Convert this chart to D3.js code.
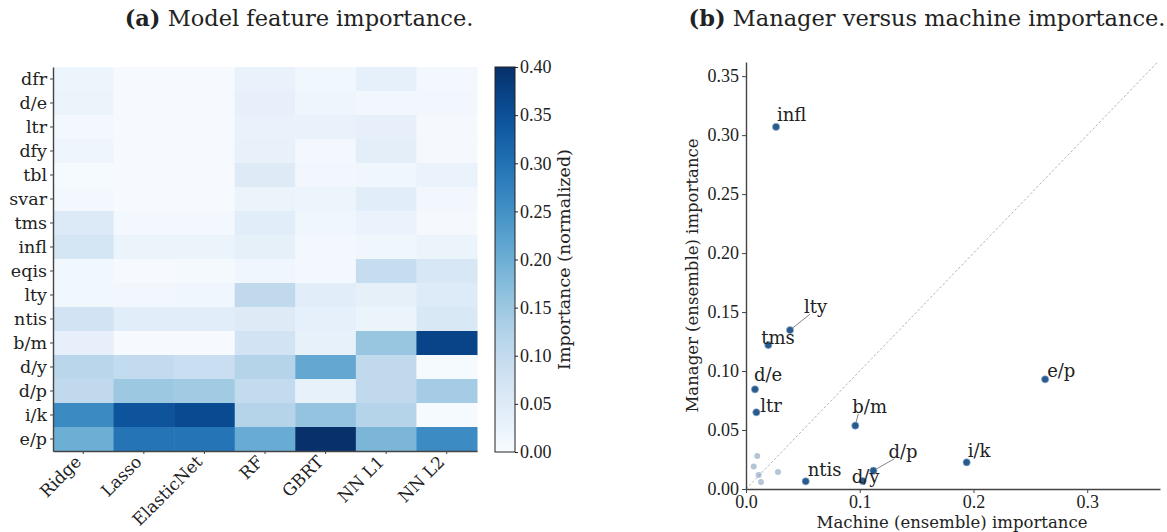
<!DOCTYPE html>
<html><head><meta charset="utf-8">
<script src="https://cdn.jsdelivr.net/npm/d3@7"></script>
<style>
body{margin:0;background:#fff}
svg text{font-family:"Liberation Serif","DejaVu Serif",serif;fill:#222}
svg text.word{font-family:"DejaVu Serif","Liberation Serif",serif}
</style></head><body>
<svg id="chart" width="1167" height="532"></svg>
<script>
// ---- Panel (a): per-model normalized feature importance ----
const models = ["Ridge","Lasso","ElasticNet","RF","GBRT","NN L1","NN L2"];
const features = ["dfr","d/e","ltr","dfy","tbl","svar","tms","infl","eqis","lty","ntis","b/m","d/y","d/p","i/k","e/p"];
const ridge      = [0.020,0.022,0.008,0.018,0.004,0.010,0.055,0.070,0.014,0.014,0.075,0.033,0.115,0.105,0.262,0.200];
const lasso      = [0.002,0.002,0.002,0.002,0.002,0.003,0.010,0.025,0.003,0.012,0.045,0.002,0.100,0.150,0.345,0.295];
const elasticNet = [0.002,0.002,0.002,0.002,0.002,0.003,0.010,0.025,0.007,0.015,0.045,0.002,0.090,0.145,0.360,0.295];
const rf         = [0.028,0.033,0.028,0.030,0.050,0.025,0.045,0.035,0.015,0.105,0.050,0.075,0.120,0.100,0.120,0.205];
const gbrt       = [0.014,0.018,0.028,0.010,0.012,0.020,0.017,0.010,0.008,0.045,0.034,0.032,0.210,0.032,0.160,0.400];
const nnL1       = [0.034,0.012,0.033,0.040,0.017,0.045,0.027,0.017,0.095,0.035,0.022,0.155,0.105,0.105,0.120,0.185];
const nnL2       = [0.010,0.012,0.005,0.005,0.027,0.012,0.005,0.022,0.062,0.052,0.060,0.370,0.004,0.140,0.004,0.260];
const modelValues = [ridge, lasso, elasticNet, rf, gbrt, nnL1, nnL2];
const colorTicks = [0.00,0.05,0.10,0.15,0.20,0.25,0.30,0.35,0.40];

// ---- Panel (b): manager vs machine (ensemble) importance ----
const scatterFeatures = ["infl","lty","tms","d/e","ltr","b/m","ntis","d/y","d/p","i/k","e/p","dfr","dfy","tbl","svar","eqis"];
const machineImp = [0.0264,0.0387,0.0196,0.0079,0.0091,0.0961,0.0525,0.1026,0.1120,0.1940,0.2630,0.0099,0.0068,0.0111,0.0132,0.0281];
const managerImp = [0.3070,0.1347,0.1220,0.0845,0.0650,0.0537,0.0065,0.0068,0.0155,0.0226,0.0930,0.0280,0.0190,0.0119,0.0059,0.0144];
const labelled   = [true,true,true,true,true,true,true,true,true,true,true,false,false,false,false,false];
const xTicks = [0.0,0.1,0.2,0.3];
const yTicks = [0.00,0.05,0.10,0.15,0.20,0.25,0.30,0.35];

// label placement (pixel offsets from each point), and which labels get a leader line
const labelDx = [1,14,-7,-1,4,-3,2,-11,15,1,2];
const labelDy = [-6,-17,-1,-8,0,-13,-5,2,-13,-5,-2];
const leader  = [false,true,false,false,false,true,false,false,true,false,false];

const svg = d3.select("#chart");
const ink = "#222";

// ===== Panel (a) =====
const hm = {left:53, top:67, right:477, bottom:451};
const xBand = d3.scaleBand().domain(models).range([hm.left, hm.right]);
const yBand = d3.scaleBand().domain(features).range([hm.top, hm.bottom]);
const color = d3.scaleSequential(d3.interpolateBlues).domain([0, 0.40]).clamp(true);

const cells = [];
models.forEach((m, i) => features.forEach((f, j) => cells.push({m, f, v: modelValues[i][j]})));
svg.append("g").selectAll("rect").data(cells).join("rect")
  .attr("x", d => xBand(d.m)).attr("y", d => yBand(d.f))
  .attr("width", xBand.bandwidth() + 0.5).attr("height", yBand.bandwidth() + 0.5)
  .attr("fill", d => color(d.v));

const gyA = svg.append("g").attr("transform", `translate(${hm.left},0)`)
  .call(d3.axisLeft(yBand).tickSize(3).tickPadding(3).tickSizeOuter(0));
const gxA = svg.append("g").attr("transform", `translate(0,${hm.bottom})`)
  .call(d3.axisBottom(xBand).tickSize(3).tickPadding(3).tickSizeOuter(0));
[gyA, gxA].forEach(g => {
  g.select(".domain").attr("stroke", "#444").attr("stroke-width", 1.4);
  g.selectAll(".tick line").attr("stroke", "#444");
  g.selectAll("text").attr("class", "word").attr("fill", ink).style("font-size", "17.5px");
});
gxA.selectAll(".tick text")
  .style("font-size", "17px")
  .attr("text-anchor", "end").attr("dy", 0).attr("y", 0)
  .attr("transform", "translate(-1,12) rotate(-45)");

// colour bar
const cb = {x:495, w:20, top:67, bottom:452};
const cbScale = d3.scaleLinear().domain([0, 0.40]).range([cb.bottom, cb.top]);
const grad = svg.append("defs").append("linearGradient").attr("id", "cbGrad")
  .attr("x1", 0).attr("y1", 1).attr("x2", 0).attr("y2", 0);
d3.range(0, 1.0001, 0.05).forEach(t => grad.append("stop")
  .attr("offset", t).attr("stop-color", color(t * 0.40)));
svg.append("rect").attr("x", cb.x).attr("y", cb.top).attr("width", cb.w).attr("height", cb.bottom - cb.top)
  .attr("fill", "url(#cbGrad)").attr("stroke", ink).attr("stroke-width", 1);
const gcb = svg.append("g").attr("transform", `translate(${cb.x + cb.w},0)`)
  .call(d3.axisRight(cbScale).tickValues(colorTicks).tickFormat(d3.format(".2f")).tickSize(3).tickPadding(2));
gcb.select(".domain").remove();
gcb.selectAll(".tick line").attr("stroke", ink);
gcb.selectAll("text").attr("fill", ink).style("font-size", "18px");
svg.append("text").attr("class", "word").attr("transform", `translate(570,${(cb.top + cb.bottom) / 2}) rotate(-90)`)
  .attr("text-anchor", "middle").style("font-size", "17.5px").text("Importance (normalized)");

// titles
const titleA = svg.append("text").attr("class", "word").attr("x", 299).attr("y", 26).attr("text-anchor", "middle").style("font-size", "22.5px");
titleA.append("tspan").attr("font-weight", "bold").text("(a)");
titleA.append("tspan").text(" Model feature importance.");
const titleB = svg.append("text").attr("class", "word").attr("x", 927).attr("y", 26).attr("text-anchor", "middle").style("font-size", "22.5px");
titleB.append("tspan").attr("font-weight", "bold").text("(b)");
titleB.append("tspan").text(" Manager versus machine importance.");

// ===== Panel (b) =====
const sp = {left:746, right:1160, top:62, bottom:489};
const x = d3.scaleLinear().domain([0, 0.364]).range([sp.left, sp.right]);
const y = d3.scaleLinear().domain([0, 0.362]).range([sp.bottom, sp.top]);

// 45-degree reference line
const diagMax = Math.min(x.domain()[1], y.domain()[1]);
svg.append("line").attr("x1", x(0)).attr("y1", y(0)).attr("x2", x(diagMax)).attr("y2", y(diagMax))
  .attr("stroke", "#aaa").attr("stroke-width", 0.9).attr("stroke-dasharray", "2.5,2");

const gyB = svg.append("g").attr("transform", `translate(${sp.left},0)`)
  .call(d3.axisLeft(y).tickValues(yTicks).tickFormat(d3.format(".2f")).tickSize(4).tickPadding(3).tickSizeOuter(0));
const gxB = svg.append("g").attr("transform", `translate(0,${sp.bottom})`)
  .call(d3.axisBottom(x).tickValues(xTicks).tickFormat(d3.format(".1f")).tickSize(4).tickPadding(2).tickSizeOuter(0));
[gyB, gxB].forEach(g => {
  g.select(".domain").attr("stroke", "#444").attr("stroke-width", 1.4);
  g.selectAll(".tick line").attr("stroke", "#444");
  g.selectAll("text").attr("fill", ink).style("font-size", "18px");
});
svg.append("text").attr("class", "word").attr("x", (sp.left + sp.right) / 2 - 1).attr("y", 528).attr("text-anchor", "middle")
  .style("font-size", "16.5px").text("Machine (ensemble) importance");
svg.append("text").attr("class", "word").attr("transform", `translate(698,${(sp.top + sp.bottom) / 2}) rotate(-90)`)
  .attr("text-anchor", "middle").style("font-size", "16.5px").text("Manager (ensemble) importance");

const pts = scatterFeatures.map((f, i) => ({f, mx: machineImp[i], mg: managerImp[i], on: labelled[i]}));
const dotColor = "#285a8c";
svg.append("g").selectAll("circle").data(pts.filter(d => !d.on)).join("circle")
  .attr("cx", d => x(d.mx)).attr("cy", d => y(d.mg)).attr("r", 3)
  .attr("fill", dotColor).attr("fill-opacity", 0.35);

const lab = pts.filter(d => d.on).map((d, i) => ({...d, dx: labelDx[i], dy: labelDy[i], line: leader[i]}));
svg.append("g").selectAll("line").data(lab.filter(d => d.line)).join("line")
  .attr("x1", d => x(d.mx)).attr("y1", d => y(d.mg))
  .attr("x2", d => x(d.mx) + d.dx + 6).attr("y2", d => y(d.mg) + d.dy + 1)
  .attr("stroke", "#777").attr("stroke-width", 0.9);
svg.append("g").selectAll("circle").data(lab).join("circle")
  .attr("cx", d => x(d.mx)).attr("cy", d => y(d.mg)).attr("r", 3.6)
  .attr("fill", dotColor).attr("stroke", "#8fb0cf").attr("stroke-width", 0.7);
svg.append("g").selectAll("text").data(lab).join("text").attr("class", "word")
  .attr("x", d => x(d.mx) + d.dx).attr("y", d => y(d.mg) + d.dy)
  .style("font-size", "18px").attr("fill", ink).text(d => d.f);
</script>
</body></html>
